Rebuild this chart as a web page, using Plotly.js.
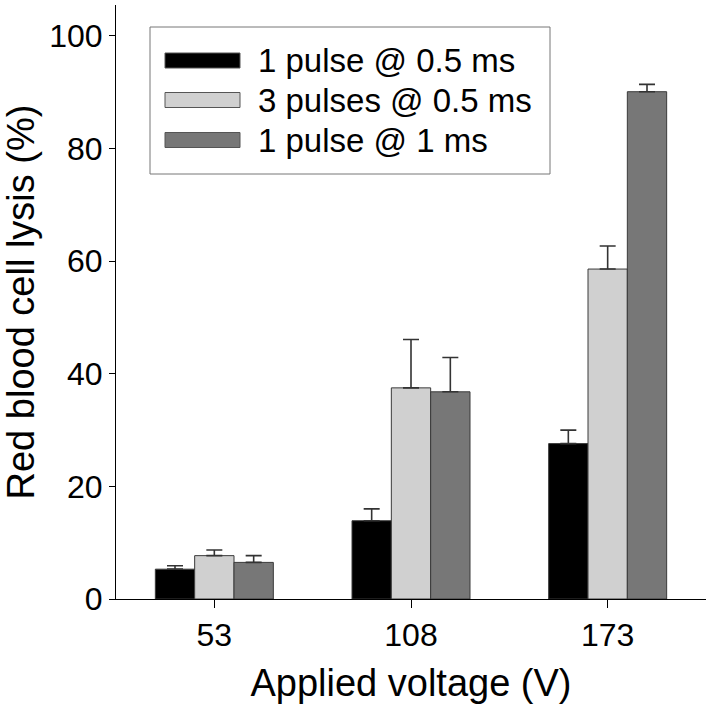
<!DOCTYPE html>
<html>
<head>
<meta charset="utf-8">
<script src="https://cdn.plot.ly/plotly-3.0.1.min.js"></script>
<style>html,body{margin:0;padding:0;background:#fff;}#chart{width:714px;height:719px;}</style>
</head>
<body>
<div id="chart"></div>
<script>
// ---- data ----
const categories = ['53', '108', '173'];
const seriesNames = ['1 pulse @ 0.5 ms', '3 pulses @ 0.5 ms', '1 pulse @ 1 ms'];
const pulse1_05ms = [5.3, 13.9, 27.6];
const pulse1_05ms_err = [0.6, 2.1, 2.4];
const pulses3_05ms = [7.7, 37.5, 58.6];
const pulses3_05ms_err = [1.0, 8.6, 4.1];
const pulse1_1ms = [6.5, 36.8, 90.1];
const pulse1_1ms_err = [1.2, 6.1, 1.3];
const yTicks = [0, 20, 40, 60, 80, 100];

const colors = ['#000000', '#d0d0d0', '#777777'];
const values = [pulse1_05ms, pulses3_05ms, pulse1_1ms];
const errs = [pulse1_05ms_err, pulses3_05ms_err, pulse1_1ms_err];

const FONT = 'Liberation Sans, Arial, sans-serif';

const traces = values.map((v, i) => ({
  type: 'bar',
  name: seriesNames[i],
  x: categories,
  y: v,
  marker: {color: colors[i], line: {color: '#3a3a3a', width: 1}},
  error_y: {type: 'data', symmetric: false, array: errs[i], arrayminus: v.map(() => 0),
            color: '#333333', thickness: 1.6, width: 8},
  showlegend: false,
  hoverinfo: 'skip'
}));

// plot-area geometry helpers for the custom legend
const W = 714, H = 719, mL = 116, mR = 8, mT = 5, mB = 120;
const pw = W - mL - mR, ph = H - mT - mB;
const px = x => (x - mL) / pw;
const py = y => (H - mB - y) / ph;

const shapes = [{
  type: 'rect', xref: 'paper', yref: 'paper',
  x0: px(150), x1: px(550), y0: py(174), y1: py(27),
  line: {color: '#777777', width: 1}, fillcolor: 'rgba(0,0,0,0)'
}];
const annotations = [];
const rowY = [60.5, 100, 140];
seriesNames.forEach((n, i) => {
  shapes.push({
    type: 'rect', xref: 'paper', yref: 'paper',
    x0: px(165), x1: px(240), y0: py(rowY[i] + 7.5), y1: py(rowY[i] - 7.5),
    line: {color: '#555555', width: 1}, fillcolor: colors[i]
  });
  annotations.push({
    xref: 'paper', yref: 'paper', x: px(256), y: py(rowY[i]),
    xanchor: 'left', yanchor: 'middle', showarrow: false,
    text: n, font: {family: FONT, size: 33, color: '#000'}
  });
});

const layout = {
  width: W, height: H, autosize: false,
  margin: {l: mL, r: mR, t: mT, b: mB, pad: 0},
  paper_bgcolor: '#fff', plot_bgcolor: '#fff',
  font: {family: FONT, color: '#000'},
  barmode: 'group', bargap: 0.4, bargroupgap: 0,
  xaxis: {
    type: 'category', range: [-0.5, 2.5],
    showline: true, linecolor: '#000', linewidth: 1,
    ticks: 'outside', ticklen: 8, tickcolor: '#000', tickwidth: 1,
    tickfont: {family: FONT, size: 32, color: '#000'},
    showgrid: false, zeroline: false,
    title: {text: 'Applied voltage (V)', font: {family: FONT, size: 38, color: '#000'}, standoff: 16}
  },
  yaxis: {
    range: [0, 105.5], tickmode: 'array', tickvals: yTicks, ticktext: yTicks.map(String),
    showline: true, linecolor: '#000', linewidth: 1,
    ticks: 'outside', ticklen: 6, tickcolor: '#000', tickwidth: 1,
    tickfont: {family: FONT, size: 32, color: '#000'},
    showgrid: false, zeroline: false,
    title: {text: 'Red blood cell lysis (%)', font: {family: FONT, size: 38, color: '#000'}, standoff: 6}
  },
  shapes: shapes,
  annotations: annotations
};

Plotly.newPlot('chart', traces, layout, {staticPlot: true, displayModeBar: false});
</script>
</body>
</html>
